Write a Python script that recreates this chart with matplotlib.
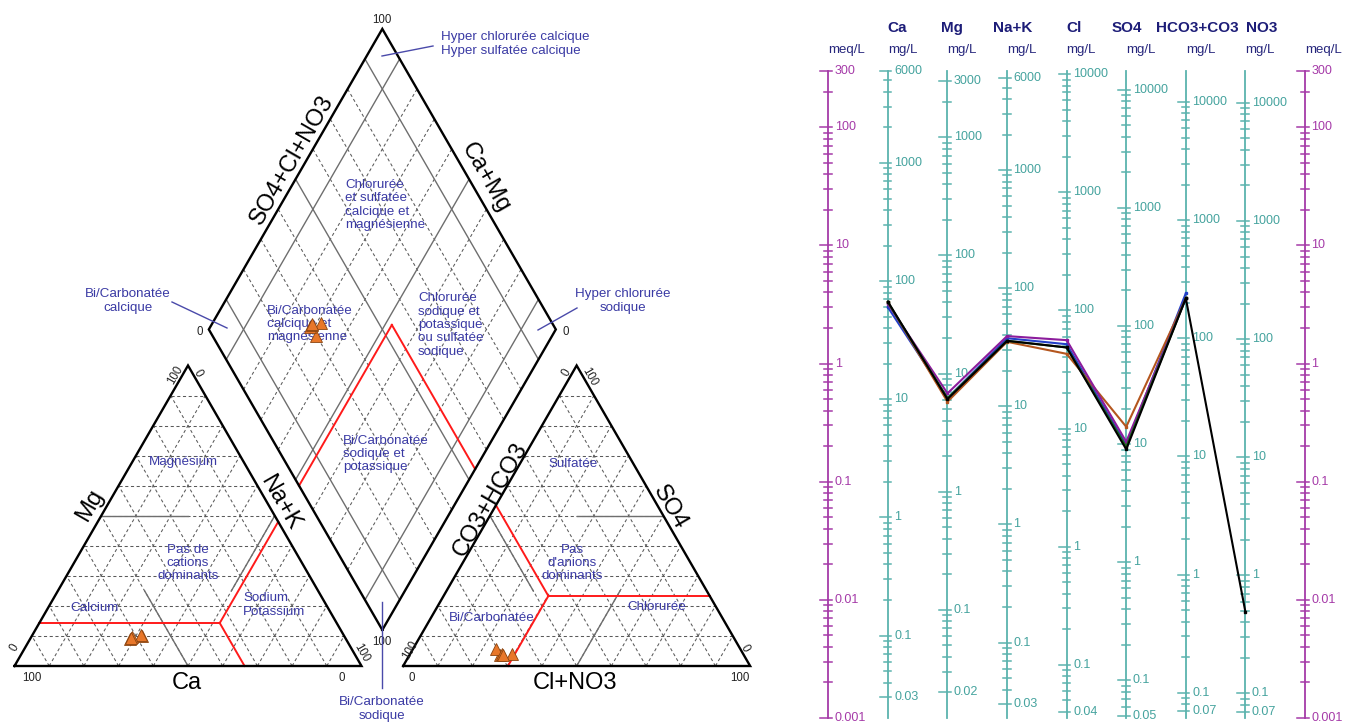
import numpy as np
import matplotlib
matplotlib.use('Agg')
import matplotlib.pyplot as plt
from matplotlib import transforms

plt.rcParams['font.family'] = ['Liberation Sans', 'DejaVu Sans']

# ---------------- data (meq/L) ----------------
samples = ['E1', 'E2', 'E3', 'E4', 'E5']
sample_colors = ['#2340c8', '#b4561e', '#8c1c9c', '#1d6b1d', '#000000']
ions = ['Ca', 'Mg', 'Na+K', 'Cl', 'SO4', 'HCO3+CO3', 'NO3']
eq_weights = [20.04, 12.15, 23.0, 35.45, 48.03, 61.02, 62.0]
ca = [3.00, 3.30, 3.20, 3.30, 3.35]
mg = [0.51, 0.476, 0.56, 0.51, 0.50]
nak = [1.64, 1.53, 1.71, 1.56, 1.56]
cl = [1.46, 1.21, 1.58, 1.37, 1.37]
so4 = [0.205, 0.292, 0.218, 0.198, 0.188]
hco3 = [3.94, 3.57, 3.57, 3.57, 3.57]
no3 = [np.nan, np.nan, np.nan, np.nan, 0.0079]

# classification boundaries (%)
cation_limit = dict(ca=33.7, mg=14.3, na=52.0)
anion_limit = dict(hco3=46.5, so4=23.3, cl=30.2)

# ---------------- figure ----------------
W, H = 1349, 724
fig = plt.figure(figsize=(W / 100, H / 100), dpi=100)

# ---- Piper ----
SC = 3.47            # px per percent unit
OX, OY = 14.5, 666   # pixel position of cation triangle origin
ax = fig.add_axes([0, 0, 1, 1])
ax.set_xlim(-OX / SC, (W - OX) / SC)
ax.set_ylim(-(H - OY) / SC, OY / SC)
ax.axis('off')

def P(xp, yp):
    return ((xp - OX) / SC, (OY - yp) / SC)

S3 = np.sqrt(3) / 2
GAP = 12.0
def cat_xy(c, m, n):
    return (n + m / 2, m * S3)
def an_xy(h, s, c):
    return (100 + GAP + c + s / 2, s * S3)
BX, BY = 100 + GAP / 2, GAP / 2 * np.sqrt(3)
def dia_xy(c, a):
    return (BX + (a - c) / 2, BY + (a + c) * S3)

def seg(p1, p2, **kw):
    ax.plot([p1[0], p2[0]], [p1[1], p2[1]], **kw)

dash = dict(color='#5a5a5a', lw=0.75, ls=(0, (3, 2.5)), zorder=1)
solid = dict(color='#6e6e6e', lw=1.0, zorder=2)
for v in range(10, 100, 10):
    seg(cat_xy(100 - v, v, 0), cat_xy(0, v, 100 - v), **dash)
    seg(cat_xy(100 - v, 0, v), cat_xy(0, 100 - v, v), **dash)
    seg(cat_xy(v, 0, 100 - v), cat_xy(v, 100 - v, 0), **dash)
    seg(an_xy(100 - v, v, 0), an_xy(0, v, 100 - v), **dash)
    seg(an_xy(100 - v, 0, v), an_xy(0, 100 - v, v), **dash)
    seg(an_xy(v, 0, 100 - v), an_xy(v, 100 - v, 0), **dash)
    st = solid if v in (10, 50, 90) else dash
    seg(dia_xy(v, 0), dia_xy(v, 100), **st)
    seg(dia_xy(0, v), dia_xy(100, v), **st)

# 50% pinwheel lines
seg(cat_xy(50, 50, 0), cat_xy(25, 50, 25), **solid)
seg(cat_xy(50, 0, 50), cat_xy(50, 25, 25), **solid)
seg(cat_xy(0, 50, 50), cat_xy(25, 25, 50), **solid)
seg(an_xy(0, 50, 50), an_xy(25, 50, 25), **solid)
seg(an_xy(50, 50, 0), an_xy(50, 25, 25), **solid)
seg(an_xy(50, 0, 50), an_xy(25, 25, 50), **solid)

# red boundaries
red = dict(color='#ff1a1a', lw=1.4, zorder=3)
cc, cm, cn = cation_limit['ca'], cation_limit['mg'], cation_limit['na']
V = cat_xy(cc, cm, cn)
seg(V, cat_xy(100 - cm, cm, 0), **red)
seg(V, cat_xy(0, 100 - cn, cn), **red)
seg(V, cat_xy(cc, 0, 100 - cc), **red)
ah, aso, acl = anion_limit['hco3'], anion_limit['so4'], anion_limit['cl']
Wv = an_xy(ah, aso, acl)
seg(Wv, an_xy(ah, 100 - ah, 0), **red)
seg(Wv, an_xy(0, aso, 100 - aso), **red)
seg(Wv, an_xy(100 - acl, 0, acl), **red)
Cr, Ar = 100 - cn, 100 - ah
seg(dia_xy(Cr, 0), dia_xy(Cr, Ar), **red)
seg(dia_xy(Cr, Ar), dia_xy(0, Ar), **red)

# outlines
edge = dict(color='black', lw=1.7, zorder=4, solid_joinstyle='miter')
tri = [cat_xy(100, 0, 0), cat_xy(0, 0, 100), cat_xy(0, 100, 0), cat_xy(100, 0, 0)]
ax.plot([p[0] for p in tri], [p[1] for p in tri], **edge)
tri = [an_xy(100, 0, 0), an_xy(0, 0, 100), an_xy(0, 100, 0), an_xy(100, 0, 0)]
ax.plot([p[0] for p in tri], [p[1] for p in tri], **edge)
dm = [dia_xy(0, 0), dia_xy(0, 100), dia_xy(100, 100), dia_xy(100, 0), dia_xy(0, 0)]
ax.plot([p[0] for p in dm], [p[1] for p in dm], **edge)

# sample points
mk = dict(marker='^', ms=8.5, mfc='#e8772a', mec='#8a4410', mew=0.6, ls='none', zorder=6)
for j in range(len(samples)):
    tc = ca[j] + mg[j] + nak[j]
    n3 = 0.0 if np.isnan(no3[j]) else no3[j]
    ta = hco3[j] + so4[j] + cl[j] + n3
    pc = (100 * ca[j] / tc, 100 * mg[j] / tc, 100 * nak[j] / tc)
    pa = (100 * hco3[j] / ta, 100 * so4[j] / ta, 100 * (cl[j] + n3) / ta)
    x, y = cat_xy(*pc); ax.plot(x, y, **mk)
    x, y = an_xy(*pa); ax.plot(x, y, **mk)
    x, y = dia_xy(pc[0] + pc[1], pa[1] + pa[2]); ax.plot(x, y, **mk)

# axis titles
tkw = dict(fontsize=17, color='black', ha='center', va='center', zorder=5)
ax.text(*P(90, 505), 'Mg', rotation=60, **tkw)
ax.text(*P(280, 503), 'Na+K', rotation=-60, **tkw)
ax.text(*P(187, 683), 'Ca', **tkw)
ax.text(*P(490, 500), 'CO3+HCO3', rotation=60, **tkw)
ax.text(*P(670, 507), 'SO4', rotation=-60, **tkw)
ax.text(*P(575, 683), 'Cl+NO3', **tkw)
ax.text(*P(292, 160), 'SO4+Cl+NO3', rotation=60, **tkw)
ax.text(*P(485, 178), 'Ca+Mg', rotation=-60, **tkw)

# tick labels
nkw = dict(fontsize=8.3, color='#222222', ha='center', va='center', zorder=5)
for (xp, yp, s, r) in [(175, 375, '100', 60), (198, 373, '0', -60), (15, 648, '0', 60),
                       (32, 678, '100', 0), (362, 653, '100', -60), (342, 678, '0', 0),
                       (567, 373, '0', 60), (590, 377, '100', -60), (410, 650, '100', 60),
                       (412, 678, '0', 0), (745, 648, '0', -60), (740, 678, '100', 0),
                       (382, 20, '100', 0), (200, 332, '0', 0), (566, 332, '0', 0),
                       (382, 642, '100', 0)]:
    ax.text(*P(xp, yp), s, rotation=r, **nkw)

# region labels
rc = '#3a3aa4'
rkw = dict(fontsize=9.6, color=rc, va='center', zorder=5, linespacing=1.15)
ax.text(*P(183, 462), 'Magnésium', ha='center', **rkw)
ax.text(*P(188, 563), 'Pas de\ncations\ndominants', ha='center', multialignment='center', **rkw)
ax.text(*P(94, 608), 'Calcium', ha='center', **rkw)
ax.text(*P(243, 605), 'Sodium\nPotassium', ha='left', **rkw)
ax.text(*P(573, 464), 'Sulfatée', ha='center', **rkw)
ax.text(*P(572, 563), "Pas\nd'anions\ndominants", ha='center', multialignment='center', **rkw)
ax.text(*P(657, 607), 'Chlorurée', ha='center', **rkw)
ax.text(*P(492, 618), 'Bi/Carbonatée', ha='center', **rkw)
ax.text(*P(345, 205), 'Chlorurée\net sulfatée\ncalcique et\nmagnésienne', ha='left', **rkw)
ax.text(*P(267, 324), 'Bi/Carbonatée\ncalcique et\nmagnésienne', ha='left', **rkw)
ax.text(*P(418, 325), 'Chlorurée\nsodique et\npotassique\nou sulfatée\nsodique', ha='left', **rkw)
ax.text(*P(343, 454), 'Bi/Carbonatée\nsodique et\npotassique', ha='left', **rkw)
ax.text(*P(441, 44), 'Hyper chlorurée calcique\nHyper sulfatée calcique', ha='left', **rkw)
ax.text(*P(128, 301), 'Bi/Carbonatée\ncalcique', ha='center', multialignment='center', **rkw)
ax.text(*P(623, 301), 'Hyper chlorurée\nsodique', ha='center', multialignment='center', **rkw)
ax.text(*P(382, 709), 'Bi/Carbonatée\nsodique', ha='center', multialignment='center', **rkw)
lkw = dict(color='#4a4aaa', lw=1.0, zorder=5)
seg(P(382, 56), P(433, 46), **lkw)
seg(P(172, 302), P(227, 328), **lkw)
seg(P(577, 308), P(538, 330), **lkw)
seg(P(382, 602), P(382, 688), **lkw)

# ---- Schoeller ----
XL, XR, YT, YB = 828.3, 1305.0, 71.0, 718.0
axs = fig.add_axes([XL / W, (H - YB) / H, (XR - XL) / W, (YB - YT) / H])
axs.set_yscale('log')
axs.set_ylim(0.001, 300)
axs.set_xlim(0, 8)
axs.axis('off')
axs.patch.set_alpha(0)
pxu = (XR - XL) / 8.0

teal, teal_txt = '#5bb3ae', '#45a39e'
purple = '#a53aa8'
col_weights = [1.0] + eq_weights + [1.0]
for i, w in enumerate(col_weights):
    isMeq = i in (0, 8)
    lc = purple if isMeq else teal
    tcol = purple if isMeq else teal_txt
    umin, umax = 0.001 * w, 300 * w
    ticks = []
    for d in range(int(np.floor(np.log10(umin))), int(np.ceil(np.log10(umax))) + 1):
        for k in range(1, 10):
            u = k * 10.0 ** d
            if umin * (1 - 1e-9) <= u <= umax * (1 + 1e-9):
                ticks.append((u, k))
    top = max(t[0] for t in ticks)
    bot = min(t[0] for t in ticks)
    axs.plot([i, i], [0.001, 300], color=lc, lw=1.3, clip_on=False, zorder=1)
    for u, k in ticks:
        major = (k == 1) or u == top or u == bot
        l = (8 if major else 4) / pxu
        axs.plot([i - l, i + 3.5 / pxu], [u / w, u / w], color=lc, lw=1.1, clip_on=False, zorder=1)
        if major:
            axs.text(i + 6.5 / pxu, u / w, f'{u:g}', ha='left', va='center', fontsize=9,
                     color=tcol, clip_on=False)

xs = np.arange(1, 8)
for j in range(len(samples)):
    vals = [ca[j], mg[j], nak[j], cl[j], so4[j], hco3[j], no3[j]]
    axs.plot(xs, vals, color=sample_colors[j], lw=1.5, marker='s', ms=2, clip_on=False, zorder=3)

bt = transforms.blended_transform_factory(axs.transData, fig.transFigure)
head_offsets = [9, 4, 6, 7, 1, 11.5, 16]
for i, (name, off) in enumerate(zip(ions, head_offsets)):
    axs.text(i + 1 + off / pxu, 1 - 28 / H, name, transform=bt, ha='center', va='center',
             fontsize=11, fontweight='bold', color='#1d1d78')
units = ['meq/L'] + ['mg/L'] * 7 + ['meq/L']
for i, u in enumerate(units):
    axs.text(i, 1 - 50 / H, u, transform=bt, ha='left', va='center', fontsize=9.5,
             color='#26267c')

fig.savefig('out.png', dpi=100)
